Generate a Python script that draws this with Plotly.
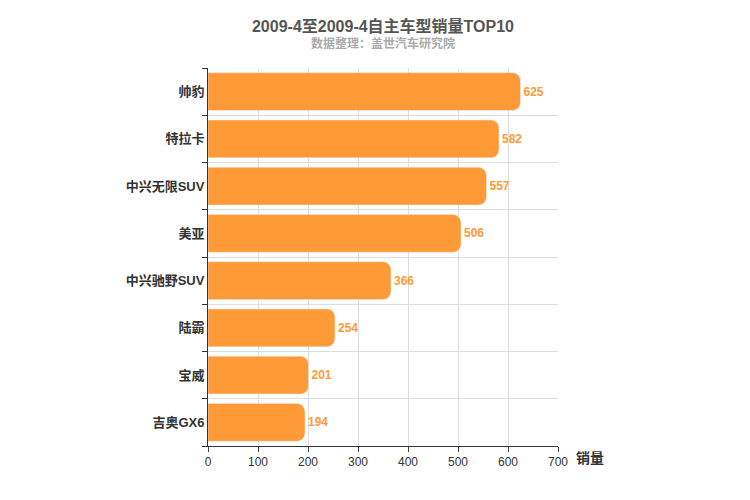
import plotly.graph_objects as go

categories = ["帅豹", "特拉卡", "中兴无限SUV", "美亚", "中兴驰野SUV", "陆霸", "宝威", "吉奥GX6"]
values = [625, 582, 557, 506, 366, 254, 201, 194]

n = len(categories)
ypos = list(range(n - 1, -1, -1))

fig = go.Figure(go.Bar(
    x=values, y=ypos, orientation="h", width=0.8,
    marker=dict(color="#FF9A37", cornerradius=8),
    text=["<b>%d</b>" % v for v in values], textposition="outside",
    textfont=dict(color="#FF9A37", size=12, family="Arial"),
    cliponaxis=False,
))
fig.update_layout(
    width=750, height=500, plot_bgcolor="white", paper_bgcolor="white",
    margin=dict(l=200, r=200, t=60, b=62, autoexpand=False),
    font=dict(family="Arial, Noto Sans CJK SC", color="#333"),
    title=dict(text="<b>2009-4至2009-4自主车型销量TOP10</b>", x=0.5, xanchor="center",
               y=0.975, yanchor="top", font=dict(size=16, color="#555")),
    annotations=[
        dict(text="<b>数据整理：盖世汽车研究院</b>", xref="paper", yref="paper", x=0.5, y=1.09,
             showarrow=False, font=dict(size=12, color="#aaa")),
        dict(text="<b>销量</b>", xref="paper", yref="paper", x=1.045, y=-0.005, xanchor="left",
             yanchor="top", showarrow=False, font=dict(size=14, color="#333")),
    ],
    showlegend=False,
)
fig.update_xaxes(range=[0, 700], dtick=100, showgrid=True, gridcolor="#ddd", showline=True,
                 linecolor="#333", ticks="outside", ticklen=5, zeroline=False, automargin=False,
                 tickfont=dict(size=12, color="#333"))
fig.update_yaxes(range=[-0.5, n - 0.5], tickvals=ypos,
                 ticktext=["<b>%s</b>" % c for c in categories], showgrid=False,
                 showline=True, linecolor="#333", ticks="", zeroline=False, automargin=False,
                 tickfont=dict(size=13, color="#333"),
                 minor=dict(tickvals=[i + 0.5 for i in range(-1, n)], showgrid=True,
                            gridcolor="#ddd", ticks="outside", ticklen=5, tickcolor="#333"))
fig.write_html("out.html")
